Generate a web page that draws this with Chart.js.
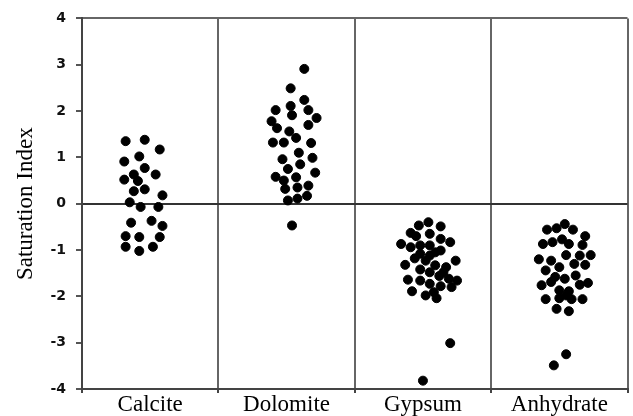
<!DOCTYPE html>
<html>
<head>
<meta charset="utf-8">
<script src="https://cdn.jsdelivr.net/npm/chart.js@4"></script>
<style>
  body { margin: 0; background: #fff; }
</style>
</head>
<body>
<canvas id="siChart" width="633" height="416"></canvas>
<script>
// categories along the x axis
var categories = ['Calcite', 'Dolomite', 'Gypsum', 'Anhydrate'];
var yTicks = [-4, -3, -2, -1, 0, 1, 2, 3, 4];

// saturation index values, with each dot's sideways spread inside its column
var calciteSI = [1.35, 1.38, 1.17, 0.91, 1.02, 0.77, 0.63, 0.63, 0.52, 0.49, 0.27, 0.31, 0.18, 0.03,
  -0.07, -0.07, -0.41, -0.37, -0.48, -0.70, -0.72, -0.72, -0.93, -1.02, -0.93];
var calciteSpread = [-0.18, -0.04, 0.07, -0.19, -0.08, -0.04, -0.12, 0.04, -0.19, -0.09, -0.12, -0.04, 0.09, -0.15,
  -0.07, 0.06, -0.14, 0.01, 0.09, -0.18, -0.08, 0.07, -0.18, -0.08, 0.02];

var dolomiteSI = [2.91, 2.49, 2.24, 2.02, 2.11, 1.91, 2.02, 1.85, 1.78, 1.63, 1.70, 1.56, 1.42, 1.32, 1.32, 1.31,
  1.10, 0.96, 0.99, 0.85, 0.75, 0.67, 0.58, 0.50, 0.57, 0.32, 0.35, 0.39, 0.17, 0.07, 0.11, -0.47];
var dolomiteSpread = [0.13, 0.03, 0.13, -0.08, 0.03, 0.04, 0.16, 0.22, -0.11, -0.07, 0.16, 0.02, 0.07, -0.10, -0.02, 0.18,
  0.09, -0.03, 0.19, 0.10, 0.01, 0.21, -0.08, -0.02, 0.07, -0.01, 0.08, 0.16, 0.15, 0.01, 0.08, 0.04];

var gypsumSI = [-0.40, -0.47, -0.49, -0.63, -0.65, -0.70, -0.76, -0.83, -0.87, -0.94, -0.90, -0.90, -1.01, -1.08,
  -1.12, -1.23, -1.32, -1.33, -1.23, -1.42, -1.37, -1.48, -1.64, -1.66, -1.56, -1.62, -1.66, -1.73, -1.78,
  -1.89, -1.80, -1.98, -2.04, -1.91, -1.18, -1.05, -1.48, -3.01, -3.82];
var gypsumSpread = [0.04, -0.03, 0.13, -0.09, 0.05, -0.05, 0.13, 0.20, -0.16, -0.09, -0.02, 0.05, 0.13, -0.02,
  0.05, 0.02, -0.13, 0.09, 0.24, -0.02, 0.17, 0.05, -0.11, -0.02, 0.12, 0.19, 0.25, 0.05, 0.13,
  -0.08, 0.21, 0.02, 0.10, 0.08, -0.06, 0.09, 0.15, 0.20, 0.00];

var anhydrateSI = [-0.44, -0.53, -0.56, -0.56, -0.70, -0.87, -0.83, -0.77, -0.87, -0.89, -1.20, -1.23, -1.11, -1.12,
  -1.11, -1.30, -1.44, -1.37, -1.32, -1.58, -1.69, -1.62, -1.55, -1.71, -1.76, -1.87, -1.89, -1.75,
  -2.06, -2.04, -2.06, -2.06, -2.27, -2.32, -1.98, -3.25, -3.49];
var anhydrateSpread = [0.04, -0.02, -0.09, 0.10, 0.19, -0.12, -0.05, 0.02, 0.07, 0.17, -0.15, -0.06, 0.05, 0.15,
  0.23, 0.11, -0.10, 0.00, 0.19, -0.03, -0.06, 0.04, 0.12, 0.21, -0.13, 0.00, 0.07, 0.15,
  -0.10, 0.00, 0.09, 0.17, -0.02, 0.07, 0.05, 0.05, -0.04];

function dots(index, values, spread) {
  return values.map(function(v, i) {
    return { x: index + 0.5 + spread[i], y: v };
  });
}

var seriesValues = [calciteSI, dolomiteSI, gypsumSI, anhydrateSI];
var seriesSpread = [calciteSpread, dolomiteSpread, gypsumSpread, anhydrateSpread];

var datasets = categories.map(function(name, i) {
  return {
    label: name,
    data: dots(i, seriesValues[i], seriesSpread[i]),
    backgroundColor: '#000',
    borderColor: '#000',
    pointRadius: 4.5,
    pointHoverRadius: 4.5
  };
});

const CHART = document.getElementById('siChart');

var siChart = new Chart(CHART, {
  type: 'scatter',
  data: { datasets: datasets },
  options: {
    responsive: false,
    animation: false,
    layout: { padding: { top: 17, right: 1, left: 0, bottom: 0 } },
    plugins: {
      legend: { display: false },
      tooltip: { enabled: false }
    },
    scales: {
      x: {
        type: 'linear',
        min: 0,
        max: categories.length,
        afterFit: function(scale) { scale.height = 27; },
        afterBuildTicks: function(scale) {
          var t = [];
          for (var i = 0; i <= categories.length * 2; i++) t.push({ value: i / 2 });
          scale.ticks = t;
        },
        border: { display: true, color: '#444', width: 2 },
        grid: {
          lineWidth: 2,
          tickLength: 4,
          color: function(ctx) {
            return ctx.tick && ctx.tick.value % 1 === 0 ? '#666' : 'rgba(0,0,0,0)';
          },
          tickColor: function(ctx) {
            return ctx.tick && ctx.tick.value % 1 === 0 ? '#444' : 'rgba(0,0,0,0)';
          }
        },
        ticks: {
          autoSkip: false,
          maxRotation: 0,
          padding: 0,
          color: '#000',
          font: { family: '"Liberation Serif", "Times New Roman", serif', size: 23, lineHeight: 1 },
          callback: function(value) {
            return value % 1 === 0 ? '' : categories[Math.floor(value)];
          }
        }
      },
      y: {
        min: -4,
        max: 4,
        afterFit: function(scale) { scale.width = 82; },
        afterBuildTicks: function(scale) {
          scale.ticks = yTicks.map(function(v) { return { value: v }; });
        },
        border: { display: true, color: '#444', width: 2 },
        grid: {
          lineWidth: 2,
          tickLength: 6,
          color: function(ctx) {
            if (!ctx.tick) return 'rgba(0,0,0,0)';
            if (ctx.tick.value === 0) return '#333';
            if (ctx.tick.value === 4) return '#666';
            return 'rgba(0,0,0,0)';
          },
          tickColor: '#555'
        },
        ticks: {
          padding: 10,
          color: '#111',
          font: { family: '"DejaVu Sans", Verdana, sans-serif', size: 14, weight: 'bold' }
        },
        title: {
          display: true,
          text: 'Saturation Index',
          color: '#000',
          padding: { top: 14, bottom: 0 },
          font: { family: '"Liberation Serif", "Times New Roman", serif', size: 23, lineHeight: 1 }
        }
      }
    }
  }
});
</script>
</body>
</html>
